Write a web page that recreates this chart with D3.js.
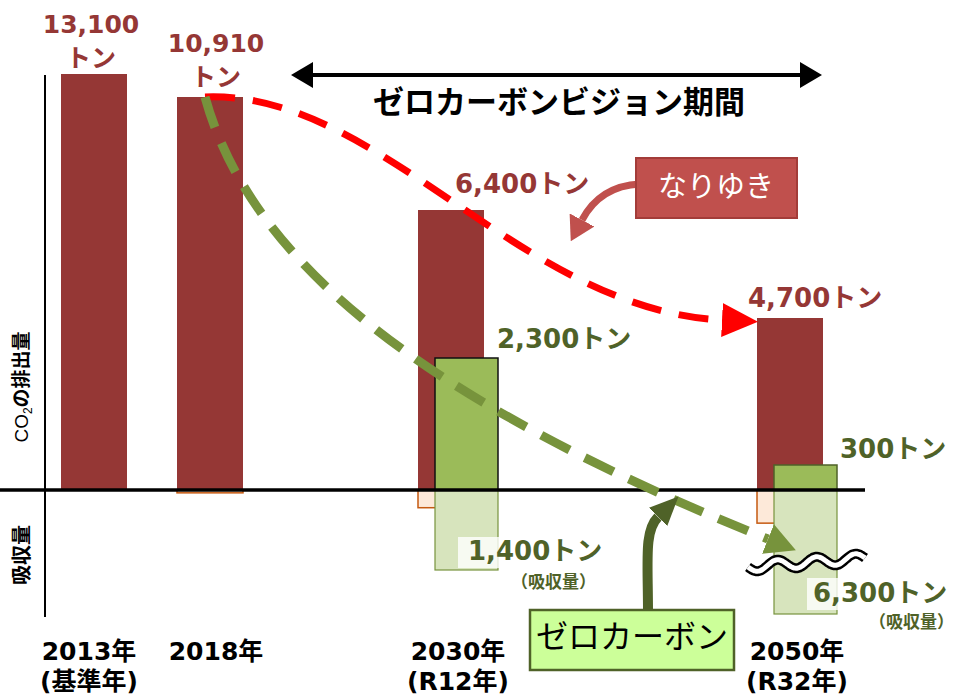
<!DOCTYPE html>
<html>
<head>
<meta charset="utf-8">
<script src="https://cdn.jsdelivr.net/npm/d3@7"></script>
<style>
  html, body { margin: 0; padding: 0; background: #fff; }
  svg { display: block; }
  text { font-family: "DejaVu Sans", "Noto Sans CJK JP", sans-serif; }
</style>
</head>
<body>
<svg id="chart" width="954" height="699"></svg>
<script>
// ---------------- DATA ----------------
const categories = ["2013年", "2018年", "2030年", "2050年"];
const subLabels = ["(基準年)", "", "(R12年)", "(R32年)"];
const years = [2013, 2018, 2030, 2050];
const emissions = [13100, 10910, 6400, 4700];          // CO2 排出量
const netEmissions = [null, null, 2300, 300];          // 吸収後
const absorption = [null, null, -1400, -6300];         // 吸収量
const otherReduction = [0, -50, -310, -580];           // small offset boxes
const yBreaks = [-6300, -1400, 0, 300, 2300, 4700, 6400, 10910, 13100];
const periodTitle = "ゼロカーボンビジョン期間";
const trendLabel = "なりゆき";
const zeroLabel = "ゼロカーボン";
const unit = "トン";
const absorbNote = "（吸収量）";

// ---------------- SETUP ----------------
const svg = d3.select("#chart");
const fmt = d3.format(",");

// schematic (broken) value axis
const y = d3.scaleLinear().domain(yBreaks)
  .range([614, 570, 490, 465, 358, 318, 210, 97, 74]);
const x = d3.scaleLinear().domain(years).range([94, 210, 451, 790]);

const BW = 66, GW = 63, GOFF = 17;
const RED = "#953735", GREEN_TXT = "#4f6228";

const defs = svg.append("defs");
function marker(id, len, half, color, orient) {
  defs.append("marker").attr("id", id)
    .attr("markerUnits", "userSpaceOnUse")
    .attr("viewBox", `0 ${-half} ${len} ${2 * half}`)
    .attr("refX", 0).attr("refY", 0)
    .attr("markerWidth", len).attr("markerHeight", 2 * half)
    .attr("orient", orient || "auto")
    .append("path").attr("d", `M0,${-half}L${len},0L0,${half}Z`).attr("fill", color);
}
marker("arRed", 36, 17, "#ff0000");
marker("arGreen", 30, 16, "#77933c");
marker("arNari", 24, 14, "#c0504d");
marker("arZero", 29, 13, "#4f6228");
marker("arTop", 22, 13, "#000", "auto-start-reverse");

const data = categories.map((c, i) => ({
  cat: c, sub: subLabels[i], year: years[i], em: emissions[i],
  net: netEmissions[i], abs: absorption[i], oth: otherReduction[i]
}));

// ---------------- BARS ----------------
svg.append("g").selectAll("rect").data(data).join("rect")
  .attr("x", d => x(d.year) - BW / 2)
  .attr("y", d => y(d.em))
  .attr("width", BW)
  .attr("height", d => y(0) - y(d.em))
  .attr("fill", RED);

svg.append("g").selectAll("rect").data(data.filter(d => d.oth < 0)).join("rect")
  .attr("x", d => x(d.year) - BW / 2)
  .attr("y", y(0))
  .attr("width", BW)
  .attr("height", d => y(d.oth) - y(0))
  .attr("fill", "#fde9d9").attr("stroke", "#c55a11").attr("stroke-width", 1.5);

svg.append("g").selectAll("rect").data(data.filter(d => d.abs !== null)).join("rect")
  .attr("x", d => x(d.year) - BW / 2 + GOFF)
  .attr("y", y(0))
  .attr("width", GW)
  .attr("height", d => y(d.abs) - y(0))
  .attr("fill", "#d7e4bd").attr("stroke", "#77933c").attr("stroke-width", 1.2);

svg.append("g").selectAll("rect").data(data.filter(d => d.net !== null)).join("rect")
  .attr("x", d => x(d.year) - BW / 2 + GOFF)
  .attr("y", d => y(d.net))
  .attr("width", GW)
  .attr("height", d => y(0) - y(d.net))
  .attr("fill", "#9bbb59")
  .attr("stroke", d => d.year === 2030 ? "#111" : "#4f6228").attr("stroke-width", 1.5);

// ---------------- AXES ----------------
svg.append("line").attr("x1", 45).attr("x2", 45).attr("y1", y(13100) + 1).attr("y2", y(-6300) + 3)
  .attr("stroke", "#000").attr("stroke-width", 2);
svg.append("line").attr("x1", 0).attr("x2", 865).attr("y1", y(0)).attr("y2", y(0))
  .attr("stroke", "#000").attr("stroke-width", 3.5);

const ylab = svg.append("text").attr("transform", `translate(28,${(y(6400) + y(0)) / 2 + 37}) rotate(-90)`)
  .attr("text-anchor", "middle").attr("font-size", 19).attr("fill", "#000");
ylab.append("tspan").attr("font-family", "Liberation Sans, sans-serif").text("CO");
ylab.append("tspan").attr("font-size", 12).attr("dy", 4).attr("font-family", "Liberation Sans, sans-serif").text("2");
ylab.append("tspan").attr("dy", -4).attr("font-weight", "bold").attr("font-family", "Noto Sans CJK JP").text("の排出量");

svg.append("text").attr("transform", `translate(29,555) rotate(-90)`)
  .attr("text-anchor", "middle").attr("font-size", 20).attr("font-weight", "bold")
  .attr("font-family", "Noto Sans CJK JP").text("吸収量");

// category labels
const catX = d => d.net !== null ? x(d.year) + 7 : x(d.year) + (d.year === 2013 ? -5 : 6);
svg.append("g").selectAll("text").data(data).join("text")
  .attr("x", catX).attr("y", 660)
  .attr("text-anchor", "middle").attr("font-size", 25).attr("font-weight", "bold")
  .text(d => d.cat);
svg.append("g").selectAll("text").data(data.filter(d => d.sub)).join("text")
  .attr("x", catX).attr("y", 690)
  .attr("text-anchor", "middle").attr("font-size", 25).attr("font-weight", "bold")
  .text(d => d.sub);

// ---------------- TREND CURVES ----------------
const sx = x(2018) - 5, sy = y(10910);
const redEnd = [x(2050) - BW / 2 - 35, y(4700) + 2];
svg.append("path")
  .attr("d", `M${sx},${sy} C380,90 520,310 ${redEnd[0]},${redEnd[1]}`)
  .attr("fill", "none").attr("stroke", "#ff0000").attr("stroke-width", 7)
  .attr("stroke-dasharray", "30 18").attr("marker-end", "url(#arRed)");

const grEnd = [768, 539];
svg.append("path")
  .attr("d", `M${sx},${sy} C250,260 420,400 ${grEnd[0]},${grEnd[1]}`)
  .attr("fill", "none").attr("stroke", "#77933c").attr("stroke-width", 9)
  .attr("stroke-dasharray", "32 17").attr("marker-end", "url(#arGreen)");

// wave (axis break)
const wave = d3.range(0, 1.0001, 0.01).map(t => [748 + t * 117, 567 - t * 9 + 5 * Math.sin(t * Math.PI * 6)]);
const wl = d3.line().curve(d3.curveBasis);
svg.append("path").attr("d", wl(wave)).attr("fill", "none").attr("stroke", "#000").attr("stroke-width", 10);
svg.append("path").attr("d", wl(wave)).attr("fill", "none").attr("stroke", "#fff").attr("stroke-width", 5);

// ---------------- VALUE LABELS ----------------
function lab(txt, xx, yy, color, size, anchor) {
  return svg.append("text").attr("x", xx).attr("y", yy).attr("fill", color)
    .attr("font-size", size).attr("font-weight", "bold")
    .attr("text-anchor", anchor || "start").text(txt);
}
lab(fmt(emissions[0]), x(2013) - 3, 33, RED, 25, "middle");
lab(unit, x(2013) - 3, 67, RED, 25, "middle");
lab(fmt(emissions[1]), x(2018) + 6, 52, RED, 25, "middle");
lab(unit, x(2018) + 6, 86, RED, 25, "middle");
lab(fmt(emissions[2]) + unit, x(2030) + 4, y(6400) - 17, RED, 26);
lab(fmt(emissions[3]) + unit, x(2050) - 42, y(4700) - 11, RED, 26);
lab(fmt(netEmissions[2]) + unit, x(2030) + 46, y(2300) - 10, GREEN_TXT, 26);
lab(fmt(netEmissions[3]) + unit, x(2050) + 50, y(300) - 7, GREEN_TXT, 26);

svg.append("rect").attr("x", 458).attr("y", 537).attr("width", 152).attr("height", 31)
  .attr("fill", "#fff").attr("opacity", 0.8);
svg.append("rect").attr("x", 807).attr("y", 578).attr("width", 145).attr("height", 32)
  .attr("fill", "#fff").attr("opacity", 0.8);
lab(fmt(Math.abs(absorption[2])) + unit, 468, 560, GREEN_TXT, 26);
lab(absorbNote, 596, 588, GREEN_TXT, 17, "end").attr("font-family", "Noto Sans CJK JP");
lab(fmt(Math.abs(absorption[3])) + unit, 813, 602, GREEN_TXT, 26);
lab(absorbNote, 954, 628, GREEN_TXT, 17, "end").attr("font-family", "Noto Sans CJK JP");

// ---------------- PERIOD ARROW ----------------
svg.append("path").attr("d", "M313,75L800,75").attr("stroke", "#000").attr("stroke-width", 4)
  .attr("marker-start", "url(#arTop)").attr("marker-end", "url(#arTop)");
svg.append("text").attr("x", 559).attr("y", 113).attr("text-anchor", "middle")
  .attr("font-family", "Noto Sans CJK JP").attr("font-weight", "bold").attr("font-size", 31)
  .text(periodTitle);

// ---------------- なりゆき callout ----------------
svg.append("path").attr("d", "M640,184 Q600,186 582,220").attr("fill", "none")
  .attr("stroke", "#c0504d").attr("stroke-width", 7).attr("marker-end", "url(#arNari)");
svg.append("rect").attr("x", 636).attr("y", 158).attr("width", 161).attr("height", 60)
  .attr("fill", "#c0504d").attr("stroke", "#a33c39").attr("stroke-width", 2);
svg.append("text").attr("x", 716).attr("y", 197).attr("text-anchor", "middle")
  .attr("font-family", "Noto Sans CJK JP").attr("font-size", 29).attr("fill", "#fff")
  .text(trendLabel);

// ---------------- ゼロカーボン callout ----------------
svg.append("path").attr("d", "M648,612 C648,560 644,531 658,517").attr("fill", "none")
  .attr("stroke", "#4f6228").attr("stroke-width", 10).attr("marker-end", "url(#arZero)");
svg.append("rect").attr("x", 530).attr("y", 610).attr("width", 204).attr("height", 60)
  .attr("fill", "#ccff99").attr("stroke", "#4f6228").attr("stroke-width", 2.5);
svg.append("text").attr("x", 632).attr("y", 648).attr("text-anchor", "middle")
  .attr("font-family", "Noto Sans CJK JP").attr("font-size", 32).attr("fill", "#000")
  .text(zeroLabel);
</script>
</body>
</html>
